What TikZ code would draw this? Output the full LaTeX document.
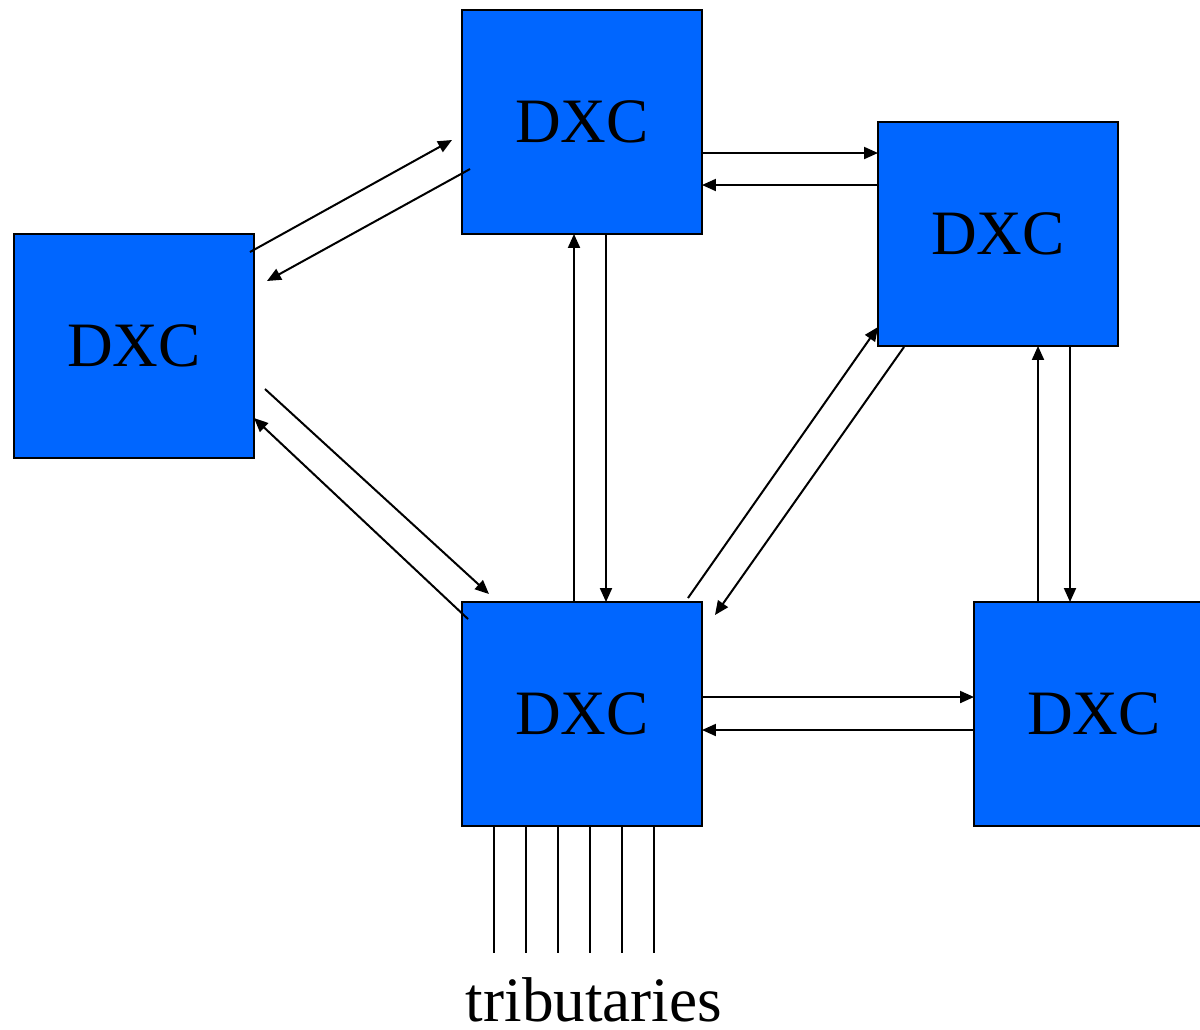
\documentclass[tikz,border=0pt]{standalone}
\usepackage{fontspec}
\setmainfont{Liberation Serif}
\usetikzlibrary{arrows.meta}
\definecolor{dxcblue}{RGB}{0,102,255}
\begin{document}
\begin{tikzpicture}[x=0.02cm, y=-0.02cm,
  dxc/.style={draw=black, line width=0.04cm, fill=dxcblue, minimum width=4.8cm,
    minimum height=4.48cm, inner sep=0pt, outer sep=0pt,
    font=\fontsize{36}{43}\selectfont},
  link/.style={line width=0.04cm, -{Triangle[length=0.28cm, width=0.24cm]}},
  trib/.style={line width=0.04cm}]
\clip (0,0) rectangle (1200,1029);
\useasboundingbox (0,0) rectangle (1200,1029);

% cross-connects
\node[dxc] (top)  at (582,122)  {DXC};
\node[dxc] (rtop) at (998,234)  {DXC};
\node[dxc] (left) at (134,346)  {DXC};
\node[dxc] (bot)  at (582,714)  {DXC};
\node[dxc] (brt)  at (1094,714) {DXC};

% left <-> top
\draw[link] ([shift={(-4,18)}]left.north east) -- ([shift={(-10,18)}]top.west);
\draw[link] ([shift={(8,47)}]top.west) -- ([shift={(13,-65)}]left.east);

% top <-> right-top
\draw[link] ([shift={(0,31)}]top.east) -- ([shift={(0,-81)}]rtop.west);
\draw[link] ([shift={(0,-49)}]rtop.west) -- ([shift={(0,63)}]top.east);

% top <-> bottom
\draw[link] ([shift={(-8,0)}]bot.north) -- ([shift={(-8,0)}]top.south);
\draw[link] ([shift={(24,0)}]top.south) -- ([shift={(24,0)}]bot.north);

% left <-> bottom
\draw[link] ([shift={(11,43)}]left.east) -- ([shift={(27,-8)}]bot.north west);
\draw[link] ([shift={(6,17)}]bot.north west) -- ([shift={(0,72)}]left.east);

% bottom <-> right-top
\draw[link] ([shift={(-14,-4)}]bot.north east) -- ([shift={(0,-19)}]rtop.south west);
\draw[link] ([shift={(26,1)}]rtop.south west) -- ([shift={(13,13)}]bot.north east);

% right-top <-> bottom-right
\draw[link] ([shift={(-56,0)}]brt.north) -- ([shift={(40,0)}]rtop.south);
\draw[link] ([shift={(72,0)}]rtop.south) -- ([shift={(-24,0)}]brt.north);

% bottom <-> bottom-right
\draw[link] ([shift={(0,-17)}]bot.east) -- ([shift={(0,-17)}]brt.west);
\draw[link] ([shift={(0,16)}]brt.west) -- ([shift={(0,16)}]bot.east);

% tributary lines
\foreach \dx [count=\i] in {-88,-56,-24,8,40,72} {
  \coordinate (t\i) at ([shift={(\dx,127)}]bot.south);
  \draw[trib] ([shift={(\dx,0)}]bot.south) -- (t\i);
}
\node[anchor=base, inner sep=0pt, font=\fontsize{36}{43}\selectfont] (tlabel) at (594,1021) {tributaries};
\end{tikzpicture}
\end{document}
